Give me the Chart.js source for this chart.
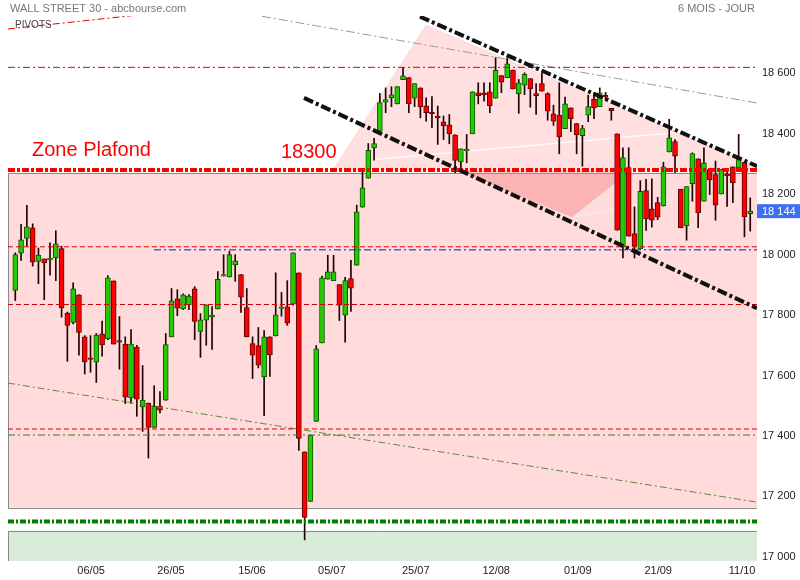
<!DOCTYPE html>
<html>
<head>
<meta charset="utf-8">
<script src="https://cdn.jsdelivr.net/npm/chart.js@4.4.1/dist/chart.umd.min.js"></script>
<style>
  html, body { margin: 0; padding: 0; background: #fff; }
  canvas { display: block; }
</style>
</head>
<body>
<canvas id="chart" width="800" height="580"></canvas>
<script>
// daily candles (index 0 = first session)
const opens = [17882,18005,18054,18089,17978,17986,17983,17989,18020,17807,
  17776,17867,17728,17658,17644,17738,17721,17913,17714,17704,
  17526,17694,17496,17509,17428,17499,17518,17728,17854,17820,
  17834,17887,17746,17783,17793,17820,17929,17926,17966,17934,
  17825,17706,17699,17595,17728,17731,17823,17827,17836,17940,
  17347,17183,17448,17708,17919,17914,17901,17800,17921,17965,
  18157,18253,18353,18409,18505,18519,18499,18579,18586,18518,
  18552,18493,18470,18459,18440,18430,18397,18307,18346,18400,
  18536,18536,18539,18518,18593,18586,18611,18533,18561,18583,
  18533,18566,18533,18466,18462,18417,18486,18434,18394,18462,
  18514,18490,18525,18484,18400,18028,18288,18070,18019,18212,
  18152,18172,18161,18340,18374,18216,18095,18235,18317,18177,
  18282,18265,18201,18265,18291,18287,18306,18136];
const highs = [18006,18100,18163,18102,18022,17986,18039,18079,18028,17810,
  17907,17867,17732,17732,17739,17780,17931,17913,17795,17728,
  17752,17700,17633,17509,17566,17547,17739,17888,17884,17870,
  17868,17894,17805,17834,17828,17944,18000,18011,18000,17934,
  17888,17728,17759,17749,17728,17940,17875,17914,18006,17940,
  17347,17403,17699,17929,17998,17998,17901,17925,17981,18164,
  18274,18368,18385,18534,18552,18556,18556,18619,18586,18566,
  18552,18519,18523,18492,18459,18464,18397,18350,18398,18539,
  18569,18569,18569,18652,18593,18652,18611,18580,18602,18583,
  18566,18602,18536,18495,18569,18522,18486,18434,18428,18528,
  18536,18552,18537,18484,18400,18354,18354,18158,18245,18249,
  18251,18190,18306,18448,18381,18216,18225,18337,18317,18354,
  18282,18310,18282,18282,18291,18398,18306,18188];
const lows = [17848,17981,18028,17962,17904,17851,17932,17914,17793,17647,
  17771,17667,17605,17611,17577,17664,17719,17704,17621,17507,
  17508,17465,17415,17327,17428,17476,17518,17728,17798,17818,
  17818,17719,17660,17700,17686,17820,17929,17926,17912,17809,
  17728,17590,17625,17467,17597,17731,17796,17766,17833,17352,
  17056,17183,17448,17708,17919,17914,17782,17710,17812,17965,
  18157,18253,18313,18409,18470,18490,18499,18579,18470,18490,
  18453,18442,18420,18365,18381,18367,18271,18280,18304,18400,
  18499,18508,18470,18518,18536,18586,18549,18468,18530,18488,
  18464,18541,18445,18428,18334,18417,18407,18334,18293,18440,
  18450,18490,18511,18445,18081,17989,18061,17989,18019,18080,
  18091,18116,18161,18340,18271,18089,18048,18177,18089,18177,
  18199,18114,18201,18160,18172,18287,18059,18078];
const closes = [18000,18049,18092,17975,17999,17973,17987,18036,17824,17766,
  17887,17743,17645,17654,17734,17701,17923,17704,17712,17528,
  17704,17522,17519,17428,17498,17485,17702,17847,17823,17867,
  17863,17779,17784,17834,17800,17918,17934,18000,17980,17859,
  17728,17667,17634,17728,17668,17801,17826,17773,18006,17392,
  17130,17403,17688,17923,17943,17943,17833,17914,17889,18142,
  18221,18345,18368,18503,18513,18529,18556,18592,18499,18566,
  18490,18470,18468,18453,18427,18400,18312,18350,18346,18539,
  18526,18529,18493,18610,18571,18632,18549,18569,18597,18549,
  18526,18541,18475,18442,18390,18499,18450,18396,18417,18490,
  18486,18536,18524,18477,18081,18321,18061,18028,18210,18118,
  18114,18124,18291,18387,18326,18089,18225,18335,18138,18304,
  18247,18164,18282,18263,18238,18321,18125,18144];

// time axis: date labels and the candle index where each one sits
const dateLabels = ['06/05','26/05','15/06','05/07','25/07','12/08','01/09','21/09','11/10'];
const dateIndex = [13.1, 26.9, 40.9, 54.7, 69.2, 83.1, 97.2, 111.1, 125.6];

const priceTicks = [17000, 17200, 17400, 17600, 17800, 18000, 18200, 18400, 18600];

// horizontal levels (pivots and zones)
const pivotTop = 18620;
const plafond = 18280;
const zoneTop = 18269;
const zoneBottom = 17162;
const pivotR1 = 18026;
const pivotBlue = 18016;
const pivotS1 = 17835;
const pivotS2 = 17423;
const supportGreen = 17403;
const floorLine = 17117;
const floorZoneTop = 17086;

// trend lines as [index, price] pairs
const upperChannel = [[69.93, 18788], [128.17, 18293]];
const lowerChannel = [[49.89, 18519], [128.17, 17823]];
const grayTrend = [[42.63, 18789], [128.17, 18502]];
const redTrend = [[-1.26, 18747], [21.5, 18794]];
const olivTrend = [[-1.26, 17575], [128.17, 17181]];
const bigWedge = [[54.9, 18279], [70.97, 18759], [129.9, 18279]];
const smallWedge = [[76.33, 18279], [96.37, 18123], [106.57, 18279]];
const fanA = [[61.81, 18315], [114.86, 18405]];
const fanB = [[96.37, 18123], [114.86, 18405]];
const fanC = [[96.37, 18123], [128.17, 18245]];

const X_MIN = -1.26, X_MAX = 128.17;
const FONT = '"Liberation Sans", Arial, sans-serif';

function pts(list) {
  return list.map(([x, y]) => ({ x, y }));
}

function lineSet(data, color, width, dash, order, extra) {
  return Object.assign({
    type: 'line',
    data: data,
    borderColor: color,
    borderWidth: width,
    borderDash: dash || [],
    pointRadius: 0,
    tension: 0,
    fill: false,
    order: order
  }, extra || {});
}

function hLine(y, color, width, dash, order, x0) {
  return lineSet([{ x: x0 === undefined ? X_MIN : x0, y }, { x: X_MAX, y }], color, width, dash, order);
}

const up = closes.map((c, i) => c >= opens[i]);

const bodies = opens.map((o, i) => {
  let a = o, b = closes[i];
  if (Math.abs(b - a) < 5) { const m = (a + b) / 2; a = m - 2.5; b = m + 2.5; }
  return { x: i, y: [a, b] };
});
const wicks = opens.map((o, i) => ({ x: i, y: [lows[i], highs[i]] }));

function fmt(v) {
  return String(v).replace(/\B(?=(\d{3})+(?!\d))/g, ' ');
}

// zone rectangles under everything, texts on top
const decor = {
  id: 'decor',
  beforeDatasetsDraw(chart) {
    const { ctx, chartArea: a, scales: { y } } = chart;
    ctx.save();
    let t = y.getPixelForValue(zoneTop), b = y.getPixelForValue(zoneBottom);
    ctx.fillStyle = '#ffdbdb';
    ctx.fillRect(a.left, t, a.right - a.left, b - t);
    ctx.strokeStyle = '#8a8a8a';
    ctx.lineWidth = 1;
    ctx.beginPath();
    ctx.moveTo(a.right, Math.round(t) + 0.5); ctx.lineTo(a.left + 0.5, Math.round(t) + 0.5);
    ctx.lineTo(a.left + 0.5, Math.round(b) + 0.5); ctx.lineTo(a.right, Math.round(b) + 0.5);
    ctx.stroke();
    t = y.getPixelForValue(floorZoneTop);
    ctx.fillStyle = '#d9ebd9';
    ctx.fillRect(a.left, t, a.right - a.left, a.bottom - t);
    ctx.beginPath();
    ctx.moveTo(a.right, Math.round(t) + 0.5); ctx.lineTo(a.left + 0.5, Math.round(t) + 0.5);
    ctx.lineTo(a.left + 0.5, a.bottom);
    ctx.stroke();
    ctx.restore();
  },
  afterDraw(chart) {
    const { ctx, chartArea: a, scales: { y } } = chart;
    ctx.save();
    ctx.textBaseline = 'middle';
    ctx.fillStyle = '#777';
    ctx.font = '11px ' + FONT;
    ctx.textAlign = 'left';
    ctx.fillText('WALL STREET 30 - abcbourse.com', 10, 9);
    ctx.textAlign = 'right';
    ctx.fillText('6 MOIS - JOUR', 755, 9);
    ctx.textAlign = 'left';
    ctx.fillStyle = '#444';
    ctx.font = '10px ' + FONT;
    ctx.fillText('PIVOTS', 15, 25);

    const py = y.getPixelForValue(plafond);
    ctx.fillStyle = '#f00';
    ctx.font = '20px ' + FONT;
    ctx.fillText('Zone Plafond', 32, py - 20);
    ctx.fillText('18300', 281, py - 18);

    const last = closes[closes.length - 1];
    const ly = y.getPixelForValue(last);
    ctx.fillStyle = '#3d6ff2';
    ctx.fillRect(a.right, ly - 7, 800 - a.right, 14);
    ctx.fillStyle = '#fff';
    ctx.font = '11px ' + FONT;
    ctx.fillText(fmt(last), a.right + 5, ly + 0.5);
    ctx.restore();
  }
};

new Chart(document.getElementById('chart'), {
  type: 'bar',
  data: {
    datasets: [
      // horizontal levels
      hLine(pivotTop, '#e00000', 1, [7, 3, 2, 3], 3),
      hLine(pivotR1, '#e00000', 1, [5, 3], 3),
      hLine(pivotBlue, '#1515e0', 1, [7, 3, 2, 3], 3, 23.97),
      hLine(pivotS1, '#d00000', 1, [5, 3], 3),
      hLine(pivotS2, '#e00000', 1, [5, 3], 3),
      hLine(supportGreen, '#3a7a1e', 1, [7, 3, 2, 3], 3),
      hLine(floorLine, '#008000', 4, [6, 2, 2, 2], 2),
      hLine(plafond, '#ff0000', 4, [7, 2, 3, 2], 2),
      // trend lines
      lineSet(pts(grayTrend), '#9a9a9a', 1, [9, 3, 2, 3], 4),
      lineSet(pts(redTrend), '#e00000', 1, [7, 3, 2, 3], 3),
      lineSet(pts(olivTrend), '#5b8c3a', 1, [7, 3, 2, 3], 3),
      lineSet(pts(upperChannel), '#111', 4, [10, 3, 3, 3], 1),
      lineSet(pts(lowerChannel), '#111', 4, [10, 3, 3, 3], 1),
      // wedge shading and fan lines
      lineSet(pts(bigWedge), 'rgba(255,200,200,0.6)', 1, [], 30,
        { fill: { value: plafond }, backgroundColor: 'rgba(255,170,170,0.38)' }),
      lineSet(pts(smallWedge), 'rgba(255,150,150,0)', 0, [], 29,
        { fill: { value: plafond }, backgroundColor: 'rgba(245,120,120,0.4)' }),
      lineSet(pts(fanA), 'rgba(255,255,255,0.85)', 1.5, [], 28),
      lineSet(pts(fanB), 'rgba(235,235,235,0.9)', 1.5, [], 28),
      lineSet(pts(fanC), 'rgba(240,240,240,0.7)', 1.5, [], 28),
      // candles
      {
        data: wicks,
        backgroundColor: '#220000',
        borderWidth: 0,
        barThickness: 1,
        grouped: false,
        order: 11
      },
      {
        data: bodies,
        backgroundColor: up.map(u => u ? '#22cc00' : '#ff0000'),
        borderColor: up.map(u => u ? '#0f5200' : '#660000'),
        borderWidth: 1,
        borderSkipped: false,
        barThickness: 5,
        grouped: false,
        order: 10
      }
    ]
  },
  options: {
    responsive: false,
    animation: false,
    layout: { padding: { left: 8, top: 16, right: 0, bottom: 0 } },
    plugins: {
      legend: { display: false },
      tooltip: { enabled: false }
    },
    scales: {
      x: {
        type: 'linear',
        offset: false,
        min: X_MIN,
        max: X_MAX,
        grid: { display: false, drawTicks: false, offset: false },
        border: { display: false },
        afterBuildTicks: axis => { axis.ticks = dateIndex.map(v => ({ value: v })); },
        afterFit: axis => { axis.height = 19; },
        ticks: {
          autoSkip: false,
          maxRotation: 0,
          padding: 3,
          color: '#222',
          font: { family: FONT, size: 11 },
          callback: (v, i) => dateLabels[i]
        }
      },
      y: {
        position: 'right',
        min: 16986,
        max: 18790,
        grid: { display: false, drawTicks: false },
        border: { display: false },
        afterBuildTicks: axis => { axis.ticks = priceTicks.map(v => ({ value: v })); },
        afterFit: axis => { axis.width = 43; },
        ticks: {
          padding: 5,
          color: '#222',
          font: { family: FONT, size: 11 },
          callback: v => fmt(v)
        }
      }
    }
  },
  plugins: [decor]
});
</script>
</body>
</html>
